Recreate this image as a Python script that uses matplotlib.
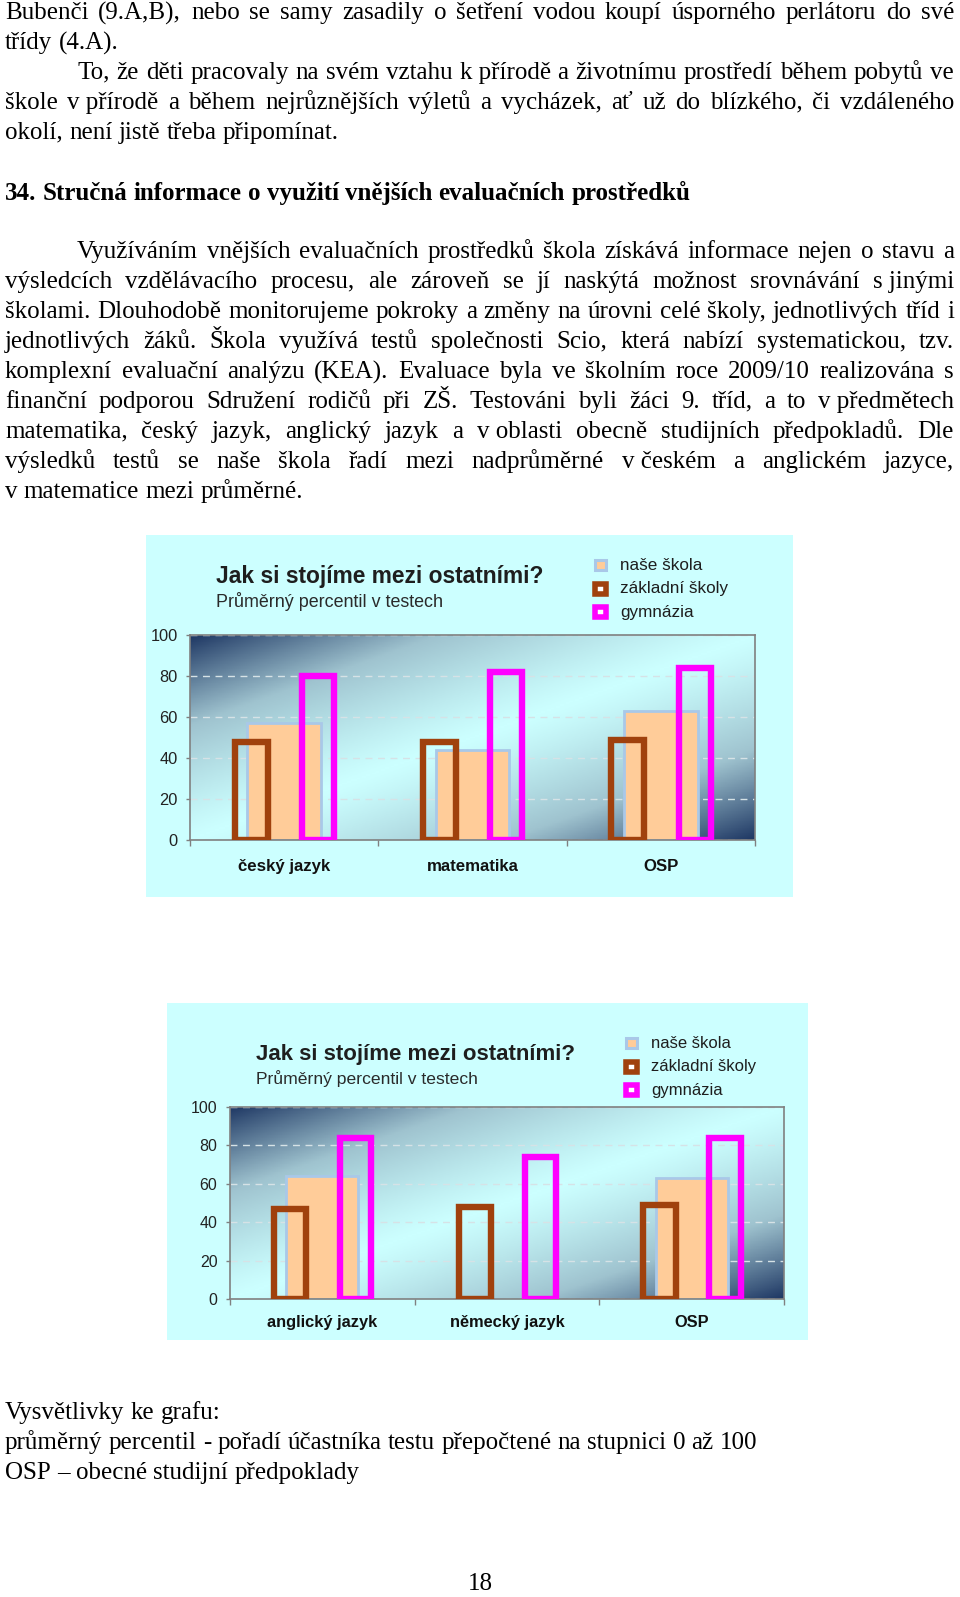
import matplotlib
matplotlib.use("Agg")
import matplotlib.pyplot as plt
import numpy as np
from matplotlib.colors import LinearSegmentedColormap
from matplotlib.font_manager import FontProperties
from matplotlib.patches import Rectangle

W, H = 960, 1597

# ---- chart data ----
legend_labels = ["naše škola", "základní školy", "gymnázia"]
chart_title = "Jak si stojíme mezi ostatními?"
chart_subtitle = "Průměrný percentil v testech"
y_ticks = [0, 20, 40, 60, 80, 100]

subjects_1 = ["český jazyk", "matematika", "OSP"]
nase_skola_1 = [57, 44, 63]
zakladni_1 = [48, 48, 49]
gymnazia_1 = [80, 82, 84]

subjects_2 = ["anglický jazyk", "německý jazyk", "OSP"]
nase_skola_2 = [64, np.nan, 63]
zakladni_2 = [47, 48, 49]
gymnazia_2 = [84, 74, 84]

# ---- page text ----  (text, justified, indented)
NB = "\u00a0"
para_1 = [
    ("Bubenči (9.A,B), nebo se samy zasadily o šetření vodou koupí úsporného perlátoru do své", True, False),
    ("třídy (4.A).", False, False),
    ("To, že děti pracovaly na svém vztahu k" + NB + "přírodě a životnímu prostředí během pobytů ve", True, True),
    ("škole v" + NB + "přírodě a během nejrůznějších výletů a vycházek, ať už do blízkého, či vzdáleného", True, False),
    ("okolí, není jistě třeba připomínat.", False, False),
]
heading = "34. Stručná informace o využití vnějších evaluačních prostředků"
para_2 = [
    ("Využíváním vnějších evaluačních prostředků škola získává informace nejen o stavu a", True, True),
    ("výsledcích vzdělávacího procesu, ale zároveň se jí naskýtá možnost srovnávání s" + NB + "jinými", True, False),
    ("školami. Dlouhodobě monitorujeme pokroky a změny na úrovni celé školy, jednotlivých tříd i", True, False),
    ("jednotlivých žáků. Škola využívá testů společnosti Scio, která nabízí systematickou, tzv.", True, False),
    ("komplexní evaluační analýzu (KEA). Evaluace byla ve školním roce 2009/10 realizována s", True, False),
    ("finanční podporou Sdružení rodičů při ZŠ. Testováni byli žáci 9. tříd, a to v" + NB + "předmětech", True, False),
    ("matematika, český jazyk, anglický jazyk a v" + NB + "oblasti obecně studijních předpokladů. Dle", True, False),
    ("výsledků testů se naše škola řadí mezi nadprůměrné v" + NB + "českém a anglickém jazyce,", True, False),
    ("v matematice mezi průměrné.", False, False),
]
notes = [
    "Vysvětlivky ke grafu:",
    "průměrný percentil - pořadí účastníka testu přepočtené na stupnici 0 až 100",
    "OSP – obecné studijní předpoklady",
]
page_number = "18"

SERIF = "Liberation Serif"
SANS = "Liberation Sans"

fig = plt.figure(figsize=(W / 100, H / 100), dpi=100)
fig.patch.set_facecolor("white")
renderer = fig.canvas.get_renderer()


def fy(py):
    return 1 - py / H


def text_width(s, size, weight="normal"):
    t = fig.text(0, 0, s, fontsize=size, family=SERIF, fontweight=weight)
    w = t.get_window_extent(renderer).width
    t.remove()
    return w


# calibrate body size on the last line of the second paragraph
body_size = 10 * 297 / text_width("v matematice mezi průměrné.", 10)
space_w = 0.25 * body_size * 100 / 72
LEFT, RIGHT, INDENT = 5, 954, 77


def put_line(s, base, justify, indent, weight="normal"):
    x0 = INDENT if indent else LEFT
    prop = FontProperties(family=SERIF, size=body_size, weight=weight)
    row = round(base)
    words = s.split(" ")
    arts, widths = [], []
    for w in words:
        # keep every word on the same pixel baseline (agg rounds per text)
        _, th, td = renderer.get_text_width_height_descent(w, prop, ismath=False)
        y_down = row - np.floor(th - td) + np.floor(th) - td
        a = fig.text(0, fy(y_down), w, fontproperties=prop, va="baseline", ha="left")
        arts.append(a)
        widths.append(a.get_window_extent(renderer).width)
    gap = space_w
    if justify and len(words) > 1:
        gap = (RIGHT - x0 - sum(widths)) / (len(words) - 1)
    x = x0
    for a, w in zip(arts, widths):
        a.set_x(x / W)
        x += w + gap


for i, (s, j, ind) in enumerate(para_1):
    put_line(s, 19 + 30 * i, j, ind)
put_line(heading, 200, False, False, weight="bold")
for i, (s, j, ind) in enumerate(para_2):
    put_line(s, 258 + 30 * i, j, ind)
for i, s in enumerate(notes):
    put_line(s, 1419 + 30 * i, False, False)
fig.text(480 / W, fy(1590), page_number, fontsize=body_size, family=SERIF,
         ha="center", va="baseline")

# ---- charts ----
bg_cmap = LinearSegmentedColormap.from_list("bg", ["#CCFFFF", "#9FC3CF", "#1F3864"])
BROWN = "#A0410D"
MAGENTA = "#FF00FF"
PEACH = "#FFCC99"
LIGHTBLUE = "#A9C8E8"


def draw_chart(panel, plot, title_xy, legend_xy, subjects, nase, zakl, gym,
               label_pad, fs):
    px0, py0, px1, py1 = panel
    fig.add_artist(Rectangle((px0 / W, fy(py1)), (px1 - px0) / W, (py1 - py0) / H,
                             transform=fig.transFigure, facecolor="#CCFFFF",
                             edgecolor="none", zorder=0))
    ax0, ay0, ax1, ay1 = plot
    ax = fig.add_axes([ax0 / W, fy(ay1), (ax1 - ax0) / W, (ay1 - ay0) / H])
    ax.set_zorder(2)

    gx, gy = np.meshgrid(np.linspace(0, 1, 300), np.linspace(0, 1, 120))
    grad = np.abs(gx - gy) ** 1.2
    ax.imshow(grad, extent=(-0.5, 2.5, 0, 100), origin="lower", aspect="auto",
              cmap=bg_cmap, vmin=0, vmax=1, zorder=0)

    x = np.arange(len(subjects))
    ax.bar(x, nase, width=0.39, facecolor=PEACH, edgecolor=LIGHTBLUE,
           linewidth=2, zorder=2)
    ax.bar(x - 0.175, zakl, width=0.175, fill=False, edgecolor=BROWN,
           linewidth=4.6, zorder=3)
    ax.bar(x + 0.18, gym, width=0.17, fill=False, edgecolor=MAGENTA,
           linewidth=4.6, zorder=4)

    ax.set_xlim(-0.5, 2.5)
    ax.set_ylim(0, 100)
    ax.set_axisbelow(True)
    ax.set_yticks(y_ticks)
    ax.yaxis.grid(True, linestyle=(0, (5, 4)), color="#D6E2E6", linewidth=1)
    ax.tick_params(axis="y", direction="out", length=3, width=1, color="#808080",
                   labelsize=11.8 * fs, pad=6, labelcolor="#222222")
    for lab in ax.get_yticklabels():
        lab.set_family(SANS)
    ax.set_xticks(x)
    ax.set_xticklabels(subjects, family=SANS, fontweight="bold", fontsize=12.1 * fs,
                       color="#111111")
    ax.tick_params(axis="x", which="major", length=0, pad=label_pad)
    ax.set_xticks([-0.5, 0.5, 1.5, 2.5], minor=True)
    ax.tick_params(axis="x", which="minor", direction="out", length=4,
                   width=1, color="#808080")
    for sp in ax.spines.values():
        sp.set_color("#808080")
        sp.set_linewidth(1.2)

    tx, ty = title_xy
    fig.text(tx / W, fy(ty), chart_title, family=SANS, fontweight="bold",
             fontsize=16.4 * fs, color="#1E1E1E", va="baseline")
    fig.text(tx / W, fy(ty + 24), chart_subtitle, family=SANS, fontsize=12.9 * fs,
             color="#2A2A2A", va="baseline")

    lx, ly = legend_xy
    styles = [(PEACH, LIGHTBLUE, 2.2), ("white", BROWN, 4.0), ("white", MAGENTA, 4.0)]
    for k, (label, (fc, ec, lw)) in enumerate(zip(legend_labels, styles)):
        cy = ly + 23.5 * k
        fig.add_artist(Rectangle(((lx + 2) / W, fy(cy + 5)), 11 / W, 10 / H,
                                 transform=fig.transFigure, facecolor=fc,
                                 edgecolor=ec, linewidth=lw, zorder=3))
        fig.text((lx + 27) / W, fy(cy), label, family=SANS, fontsize=12.3 * fs,
                 color="#1E1E1E", va="center")


draw_chart((146, 535, 793, 897), (190, 635, 755, 840), (216, 583), (593, 565),
           subjects_1, nase_skola_1, zakladni_1, gymnazia_1, 13.5, 1.0)
draw_chart((167, 1003, 808, 1340), (230, 1107, 784, 1299), (256, 1060), (624, 1043),
           subjects_2, nase_skola_2, zakladni_2, gymnazia_2, 11.5, 0.975)

fig.savefig("out.png", dpi=100, facecolor="white")
